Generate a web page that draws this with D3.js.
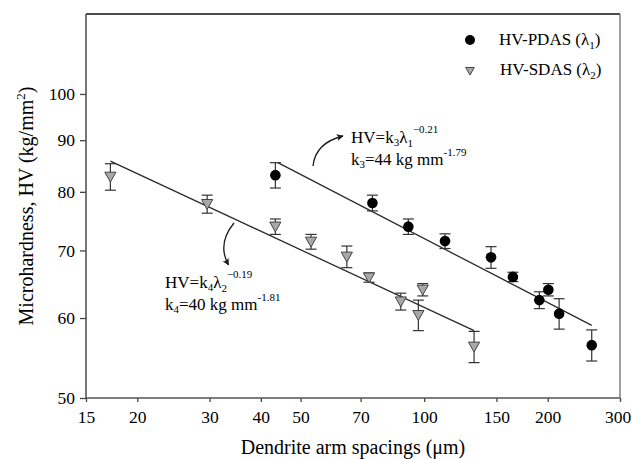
<!DOCTYPE html>
<html>
<head>
<meta charset="utf-8">
<script src="https://cdn.jsdelivr.net/npm/d3@7"></script>
<style>
  body { margin: 0; background: #fff; }
  svg text { font-family: "Liberation Serif", "Times New Roman", serif; fill: #000; }
</style>
</head>
<body>
<div id="chart"></div>
<script>
// Primary dendrite arm spacing (lambda1) vs microhardness
const pdasX = [43.4, 74.8, 91.5, 112.4, 145.5, 164.5, 190.8, 200.7, 213.2, 256];
const pdasHV = [83.1, 78.0, 73.9, 71.5, 68.9, 65.9, 62.5, 64.0, 60.6, 56.4];
const pdasErr = [2.4, 1.4, 1.3, 1.2, 1.7, 0.7, 1.2, 0.9, 2.1, 2.0];

// Secondary dendrite arm spacing (lambda2) vs microhardness
const sdasX = [17.2, 29.6, 43.4, 53.0, 64.8, 73.4, 87.7, 96.8, 99.2, 132.3];
const sdasHV = [82.8, 77.8, 73.9, 71.4, 69.0, 65.8, 62.3, 60.4, 64.0, 56.2];
const sdasErr = [2.5, 1.6, 1.3, 1.2, 1.7, 0.7, 1.2, 2.1, 0.9, 2.0];

// fitted power-law lines, end points
const pdasFit = [[44, 85.5], [256, 59.0]];
const sdasFit = [[17.2, 85.8], [132.3, 58.3]];

const xTicks = [15, 20, 30, 40, 50, 70, 100, 150, 200, 300];
const yTicks = [50, 60, 70, 80, 90, 100];

const W = 632, H = 459;
const margin = {top: 14, right: 12, bottom: 61, left: 86};

const svg = d3.select("#chart").append("svg")
    .attr("width", W)
    .attr("height", H);

const x = d3.scaleLog().domain([15, 300]).range([margin.left, W - margin.right]);
const y = d3.scaleLog().domain([50, 120]).range([H - margin.bottom, margin.top]);

// axes
const xAxis = svg.append("g")
    .attr("transform", "translate(0," + (H - margin.bottom) + ")")
    .call(d3.axisBottom(x).tickValues(xTicks).tickFormat(d3.format("d")).tickSize(4).tickPadding(9));
const yAxis = svg.append("g")
    .attr("transform", "translate(" + margin.left + ",0)")
    .call(d3.axisLeft(y).tickValues(yTicks).tickFormat(d3.format("d")).tickSize(6).tickPadding(5));

[xAxis, yAxis].forEach(function (g) {
    g.select(".domain").remove();
    g.selectAll(".tick line").attr("stroke", "#444").attr("stroke-width", 1.3);
    g.selectAll(".tick text")
        .attr("font-family", "Liberation Serif")
        .attr("font-size", 17.5)
        .attr("fill", "#000");
});
// last label sits right at the page edge, pull it in a little
xAxis.selectAll(".tick text").filter(function (d) { return d === 300; }).attr("dx", -2.5);

// frame
const x0 = x.range()[0], x1 = x.range()[1], y0 = y.range()[0], y1 = y.range()[1];
svg.append("line").attr("x1", x0).attr("x2", x1).attr("y1", y1).attr("y2", y1)
    .attr("stroke", "#111").attr("stroke-width", 1.6);
svg.append("line").attr("x1", x0).attr("x2", x0).attr("y1", y1).attr("y2", y0)
    .attr("stroke", "#555").attr("stroke-width", 1.6);
svg.append("line").attr("x1", x0).attr("x2", x1).attr("y1", y0).attr("y2", y0)
    .attr("stroke", "#555").attr("stroke-width", 1.6);
svg.append("line").attr("x1", x1).attr("x2", x1).attr("y1", y1).attr("y2", y0)
    .attr("stroke", "#777").attr("stroke-width", 1.4);

// axis titles
svg.append("text")
    .attr("x", (x0 + x1) / 2).attr("y", 454)
    .attr("text-anchor", "middle")
    .attr("font-size", 20)
    .text("Dendrite arm spacings (\u03bcm)");

const yt = svg.append("text")
    .attr("transform", "translate(33," + ((y0 + y1) / 2) + ") rotate(-90)")
    .attr("text-anchor", "middle")
    .attr("font-size", 20);
yt.append("tspan").text("Microhardness, HV (kg/mm");
yt.append("tspan").attr("font-size", 13).attr("dy", -8).text("2");
yt.append("tspan").attr("dy", 8).text(")");

// fit lines
const line = d3.line().x(function (d) { return x(d[0]); }).y(function (d) { return y(d[1]); });
[pdasFit, sdasFit].forEach(function (f) {
    svg.append("path").attr("d", line(f))
        .attr("fill", "none").attr("stroke", "#2a2a2a").attr("stroke-width", 1.3);
});

function drawErrors(xs, vs, es) {
    const g = svg.append("g").attr("stroke", "#333").attr("stroke-width", 1.2);
    xs.forEach(function (xv, i) {
        const cx = x(xv), top = y(vs[i] + es[i]), bot = y(vs[i] - es[i]);
        g.append("line").attr("x1", cx).attr("x2", cx).attr("y1", top).attr("y2", bot);
        g.append("line").attr("x1", cx - 5.5).attr("x2", cx + 5.5).attr("y1", top).attr("y2", top);
        g.append("line").attr("x1", cx - 5.5).attr("x2", cx + 5.5).attr("y1", bot).attr("y2", bot);
    });
}
drawErrors(sdasX, sdasHV, sdasErr);
drawErrors(pdasX, pdasHV, pdasErr);

// markers
function triPath(s) {
    return "M" + (-s) + "," + (-0.82 * s) + "L" + s + "," + (-0.82 * s) + "L0," + (0.95 * s) + "Z";
}
svg.append("g").selectAll("path").data(sdasX).join("path")
    .attr("d", triPath(5.6))
    .attr("transform", function (d, i) { return "translate(" + x(d) + "," + y(sdasHV[i]) + ")"; })
    .attr("fill", "#a8a8a8").attr("stroke", "#444").attr("stroke-width", 1);

svg.append("g").selectAll("circle").data(pdasX).join("circle")
    .attr("cx", function (d) { return x(d); })
    .attr("cy", function (d, i) { return y(pdasHV[i]); })
    .attr("r", 5.3)
    .attr("fill", "#000");

// legend
svg.append("circle").attr("cx", 470).attr("cy", 40).attr("r", 5).attr("fill", "#000");
svg.append("path").attr("d", triPath(4.3)).attr("transform", "translate(470,71)")
    .attr("fill", "#a8a8a8").attr("stroke", "#444").attr("stroke-width", 1);

function legendText(tx, ty, label, sub) {
    const t = svg.append("text").attr("x", tx).attr("y", ty).attr("font-size", 17);
    t.append("tspan").text(label + " (\u03bb");
    t.append("tspan").attr("font-size", 11).attr("dy", 4).text(sub);
    t.append("tspan").attr("dy", -4).text(")");
}
legendText(499, 45, "HV-PDAS", "1");
legendText(500, 75, "HV-SDAS", "2");

// equations
function equation(tx, ty, k, l, expo, kval, kexp) {
    const t = svg.append("text").attr("x", tx).attr("y", ty).attr("font-size", 17);
    t.append("tspan").text("HV=k");
    t.append("tspan").attr("font-size", 11).attr("dy", 3).text(k);
    t.append("tspan").attr("dy", -3).text("\u03bb");
    t.append("tspan").attr("font-size", 11).attr("dy", 4).text(l);
    t.append("tspan").attr("font-size", 11).attr("dy", -14).text(expo);

    const t2 = svg.append("text").attr("x", tx).attr("y", ty + 22).attr("font-size", 17);
    t2.append("tspan").text("k");
    t2.append("tspan").attr("font-size", 11).attr("dy", 3).text(k);
    t2.append("tspan").attr("dy", -3).text("=" + kval + " kg mm");
    t2.append("tspan").attr("font-size", 11).attr("dy", -9).text(kexp);
}
equation(351, 143, "3", "1", "\u22120.21", "44", "-1.79");
equation(165, 288, "4", "2", "\u22120.19", "40", "-1.81");

// curved arrows
svg.append("defs").append("marker")
    .attr("id", "head")
    .attr("viewBox", "0 0 10 10")
    .attr("refX", 9).attr("refY", 5)
    .attr("markerWidth", 7).attr("markerHeight", 7)
    .attr("markerUnits", "userSpaceOnUse")
    .attr("orient", "auto")
    .append("path").attr("d", "M0,0L10,5L0,10L2.5,5Z").attr("fill", "#1a1a1a");

svg.append("path").attr("d", "M313,166Q315.4,142.9 343,136")
    .attr("fill", "none").attr("stroke", "#1a1a1a").attr("stroke-width", 1.3)
    .attr("marker-end", "url(#head)");
svg.append("path").attr("d", "M234,223Q216.8,243.9 228.5,265")
    .attr("fill", "none").attr("stroke", "#1a1a1a").attr("stroke-width", 1.3)
    .attr("marker-end", "url(#head)");
</script>
</body>
</html>
